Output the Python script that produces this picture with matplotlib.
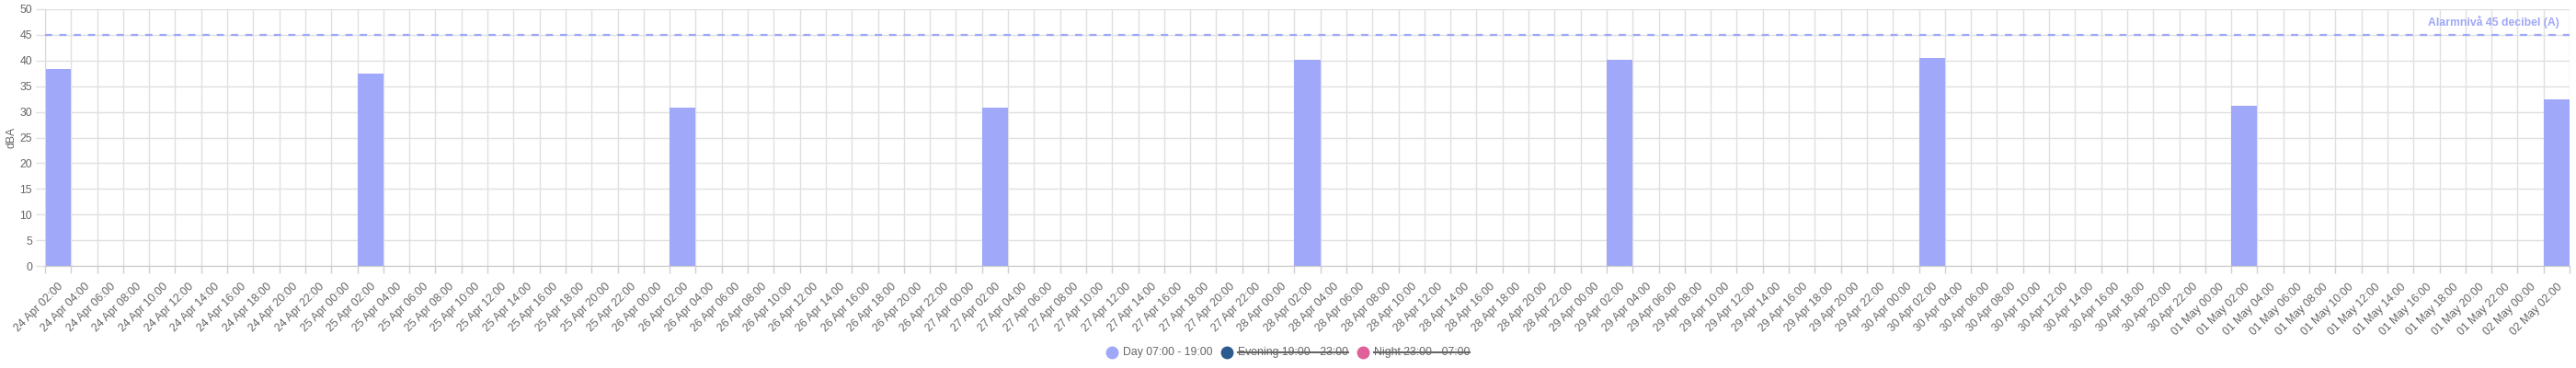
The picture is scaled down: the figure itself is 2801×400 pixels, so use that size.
import pandas as pd
import matplotlib
matplotlib.use("Agg")
import matplotlib.pyplot as plt
from matplotlib.lines import Line2D

# x categories: every 2 hours
times = pd.date_range("2024-04-24 02:00", "2024-05-02 02:00", freq="2h")
labels = [t.strftime("%d %b %H:%M") for t in times]

day_times = ["24 Apr 02:00", "25 Apr 02:00", "26 Apr 02:00", "27 Apr 02:00",
             "28 Apr 02:00", "29 Apr 02:00", "30 Apr 02:00", "01 May 02:00",
             "02 May 02:00"]
day_values = [38.3, 37.5, 30.8, 30.9, 40.2, 40.2, 40.5, 31.2, 32.4]

alarm_level = 45
alarm_text = "Alarmnivå 45 decibel (A)"

legend_names = ["Day 07:00 - 19:00", "Evening 19:00 - 23:00", "Night 23:00 - 07:00"]
legend_hidden = [False, True, True]
colors = ["#a0a8f9", "#2c5a8e", "#e0609a"]

W, H = 2801, 400
grey = "#666666"
gridc = "#e0e0e0"
fs = 8.8

plt.rcParams["font.family"] = ["Liberation Sans", "DejaVu Sans"]

fig = plt.figure(figsize=(W / 100, H / 100), dpi=100)
ax = fig.add_axes([49 / W, 1 - 289 / H, (2794 - 49) / W, (289 - 10) / H])

x = [labels.index(t) for t in day_times]
ax.bar(x, day_values, width=1.0, color=colors[0], zorder=2)

ax.axhline(alarm_level, color=colors[0], lw=1.6, ls=(0, (3.5, 3.5)), zorder=3)
ax.text(0.996, alarm_level + 1.3, alarm_text, transform=ax.get_yaxis_transform(),
        ha="right", va="bottom", color=colors[0], fontsize=fs, fontweight="bold")

n = len(labels)
ax.set_xlim(-0.28, n - 1 + 0.25)
ax.set_ylim(0, 50)
ax.set_yticks(range(0, 51, 5))
ax.set_xticks(range(n))
ax.set_xticklabels(labels, rotation=45, ha="right", rotation_mode="anchor")
ax.set_xticks([i + 0.5 for i in range(-1, n)], minor=True)
ax.tick_params(axis="x", which="major", length=0, pad=12, labelsize=fs, labelcolor=grey)
ax.tick_params(axis="x", which="minor", length=6, color="#d0d0d0", width=1)
ax.tick_params(axis="y", length=7, color=gridc, width=1, pad=3, labelsize=fs, labelcolor=grey)

ax.grid(True, axis="x", which="minor", color=gridc, lw=1, zorder=0)
ax.grid(True, axis="y", which="major", color=gridc, lw=1, zorder=0)

for s in ["top", "right"]:
    ax.spines[s].set_visible(False)
ax.spines["left"].set_color("#d8d8d8")
ax.spines["bottom"].set_color("#c8c8c8")

ax.set_ylabel("dBA", color=grey, fontsize=fs, labelpad=2)

# legend drawn by hand so hidden series can be struck through
fig.canvas.draw()
r = fig.canvas.get_renderer()
ly = 1 - 383 / H
items = []
cur = 0.0
for name, hid, c in zip(legend_names, legend_hidden, colors):
    t = fig.text(0, ly, name, color=grey, fontsize=fs, va="center", ha="left")
    w = t.get_window_extent(r).width
    items.append((t, w, hid, c, cur))
    cur += 12 + 6 + w + 10
total = cur - 10
start = W / 2 - total / 2
for t, w, hid, c, off in items:
    cx = start + off + 6
    fig.add_artist(Line2D([cx / W], [ly], marker="o", markersize=9, color=c,
                          markeredgecolor=c, transform=fig.transFigure))
    tx = cx + 6 + 6
    t.set_x(tx / W)
    if hid:
        fig.add_artist(Line2D([tx / W, (tx + w) / W], [ly, ly], color=grey, lw=1.5,
                              transform=fig.transFigure))

fig.savefig("out.png", dpi=100)
